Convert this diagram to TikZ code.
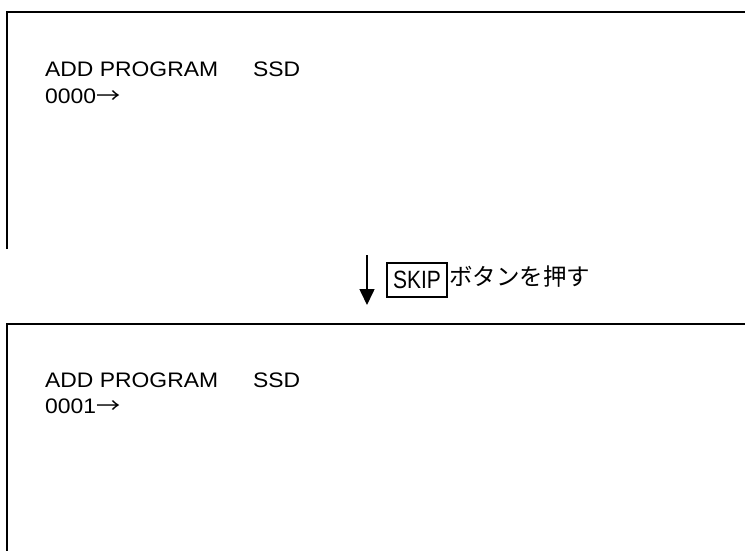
\documentclass[tikz,border=0pt]{standalone}
\usepackage{fontspec}
\setmainfont{Liberation Sans}
\newfontfamily\latwide[FakeStretch=1.09]{Liberation Sans}
\newfontfamily\latnarrow[FakeStretch=0.84]{Liberation Sans}
\newfontfamily\jpfont{Noto Sans CJK JP}
\newfontfamily\jpwide[FakeStretch=1.15]{Noto Sans CJK JP}
\usetikzlibrary{arrows.meta}
\tikzset{
  frame/.style={line width=1.8pt, line cap=butt},
  screentext/.style={anchor=base west, inner sep=0pt, font=\latwide\fontsize{21}{25}\selectfont},
  keybox/.style={draw, line width=1.3pt, inner sep=0pt, minimum width=60pt, minimum height=34pt, font=\latnarrow\fontsize{25}{30}\selectfont},
  jptext/.style={anchor=west, inner sep=0pt, font=\jpfont\fontsize{23.5}{28}\selectfont},
  flow/.style={line width=1.6pt, -{Triangle[width=15pt,length=16pt]}}
}
\begin{document}
\begin{tikzpicture}[x=1pt,y=-1pt]
\useasboundingbox (0,0) rectangle (745,551);
% top screen
\coordinate (t1) at (7,249);
\coordinate (t2) at (7,12);
\coordinate (t3) at (745,12);
\draw[frame] (t1) -- (t2) -- (t3);
\node[screentext] (a1) at (45,77) {ADD PROGRAM};
\node[screentext] (s1) at (253,77) {SSD};
\node[screentext] (n1) at (45,103) {0000{\jpwide →}};
% transition
\coordinate (f1) at (367,255);
\coordinate (f2) at (367,305);
\draw[flow] (f1) -- (f2);
\node[keybox] (skip) at (417,280) {SKIP};
\node[jptext] (lbl) at (449,277) {ボタンを押す};
% bottom screen
\coordinate (b1) at (7,551);
\coordinate (b2) at (7,324);
\coordinate (b3) at (745,324);
\draw[frame] (b1) -- (b2) -- (b3);
\node[screentext] (a2) at (45,387) {ADD PROGRAM};
\node[screentext] (s2) at (253,387) {SSD};
\node[screentext] (n2) at (45,413) {0001{\jpwide →}};
\end{tikzpicture}
\end{document}
